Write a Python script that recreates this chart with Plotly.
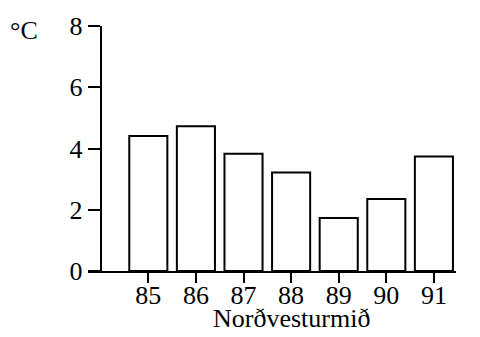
import plotly.graph_objects as go

years = [85, 86, 87, 88, 89, 90, 91]
temps = [4.41, 4.73, 3.83, 3.22, 1.73, 2.35, 3.74]
y_ticks = [0, 2, 4, 6, 8]
x_title = "Norðvesturmið"
unit_label = "°C"

FONT = "Liberation Serif, Times New Roman, serif"

x0, x1 = 83.733, 91.464
fig = go.Figure()
fig.add_trace(go.Bar(
    x=years, y=temps, width=0.80,
    marker=dict(color="white", line=dict(color="black", width=2)),
))

fig.update_layout(
    width=480, height=337,
    margin=dict(l=88, r=24, t=21, b=66),
    paper_bgcolor="white", plot_bgcolor="white",
    showlegend=False,
    font=dict(family=FONT, size=26, color="black"),
    xaxis=dict(
        range=[x0, x1], tickvals=years, ticktext=[str(v) for v in years],
        showline=True, linecolor="black", linewidth=2,
        ticks="outside", ticklen=10, tickwidth=2, tickcolor="black",
        showgrid=False, zeroline=False, ticklabelstandoff=-10,
        tickfont=dict(family=FONT, size=26, color="black"),
    ),
    yaxis=dict(
        range=[0, 8], tickvals=y_ticks,
        anchor="free", position=(84 - x0) / (x1 - x0),
        showline=True, linecolor="black", linewidth=2,
        ticks="outside", ticklen=12, tickwidth=2, tickcolor="black",
        showgrid=False, zeroline=False,
        tickfont=dict(family=FONT, size=26, color="black"),
    ),
    annotations=[
        dict(text=x_title, xref="x", x=88, yref="paper", y=-0.125,
             xanchor="center", yanchor="top", showarrow=False,
             font=dict(family=FONT, size=26, color="black")),
        dict(text=unit_label, xref="paper", x=-0.1726, yref="paper", y=0.98,
             xanchor="center", yanchor="middle", showarrow=False,
             font=dict(family=FONT, size=26, color="black")),
    ],
)

fig.write_html("out.html")
